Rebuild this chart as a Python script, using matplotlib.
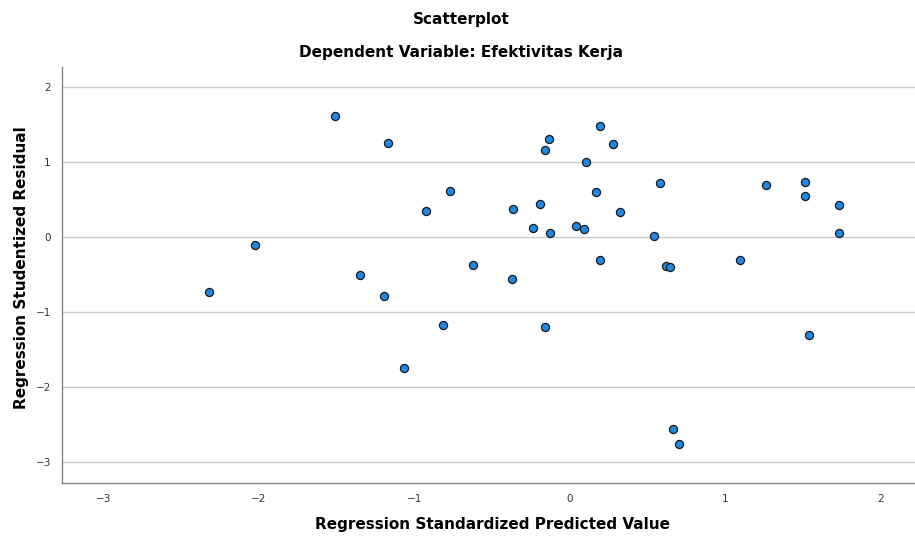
# SPSS-style residual scatterplot: studentized residual vs standardized predicted value
import matplotlib
matplotlib.use("Agg")
import matplotlib.pyplot as plt

# points
pred = [-1.511, -1.170, -0.135, -0.161, 0.193, 0.277, 0.103, -0.926, -0.772, -0.367,
        -0.193, 0.167, 0.322, -0.238, -0.129, 0.039, 0.090, -2.322, -2.026, -1.350,
        -1.196, -0.624, -0.373, 0.193, -0.817, -0.161, -1.068, 0.577, 0.540, 0.617,
        0.641, 1.091, 1.258, 1.513, 1.513, 1.728, 1.728, 1.535, 0.660, 0.701]
resid = [1.613, 1.253, 1.307, 1.160, 1.480, 1.240, 1.000, 0.347, 0.613, 0.373,
         0.440, 0.600, 0.333, 0.120, 0.053, 0.147, 0.107, -0.733, -0.107, -0.507,
         -0.787, -0.373, -0.560, -0.307, -1.173, -1.200, -1.747, 0.716, 0.018, -0.382,
         -0.400, -0.311, 0.693, 0.729, 0.551, 0.422, 0.049, -1.307, -2.556, -2.764]

x_ticks = [-3, -2, -1, 0, 1, 2]
y_ticks = [-3, -2, -1, 0, 1, 2]

title = "Scatterplot"
subtitle = "Dependent Variable: Efektivitas Kerja"
x_label = "Regression Standardized Predicted Value"
y_label = "Regression Studentized Residual"

plt.rcParams["font.family"] = ["DejaVu Sans"]

fig = plt.figure(figsize=(9.15, 5.4), dpi=100)
ax = fig.add_axes([0.0678, 0.1056, 0.9322, 0.7704])

ax.set_xlim(-3.267, 2.219)
ax.set_ylim(-3.28, 2.267)
ax.set_xticks(x_ticks)
ax.set_yticks(y_ticks)
ax.set_yticklabels([str(v).replace("-", "\u2212") for v in y_ticks])
ax.set_xticklabels([str(v).replace("-", "\u2212") for v in x_ticks])
ax.tick_params(length=0, labelsize=7.5, colors="#333333", pad=8)

ax.grid(axis="y", color="#c8c8c8", linewidth=1.0)
ax.set_axisbelow(True)
for side in ("top", "right"):
    ax.spines[side].set_visible(False)
for side in ("left", "bottom"):
    ax.spines[side].set_color("#888888")
    ax.spines[side].set_linewidth(1.0)

ax.scatter(pred, resid, s=34, c="#1e88e5", edgecolors="#1a1a1a", linewidths=0.9, zorder=3)

ax.set_xlabel(x_label, fontsize=11, fontweight="bold", va="center")
ax.set_ylabel(y_label, fontsize=11, fontweight="bold", va="center")
ax.xaxis.set_label_coords(0.505, -0.101)
ax.yaxis.set_label_coords(-0.047, 0.517)

fig.text(0.504, 0.963, title, ha="center", va="center", fontsize=11, fontweight="bold")
fig.text(0.504, 0.903, subtitle, ha="center", va="center", fontsize=11, fontweight="bold")

fig.savefig("out.png", dpi=100)
